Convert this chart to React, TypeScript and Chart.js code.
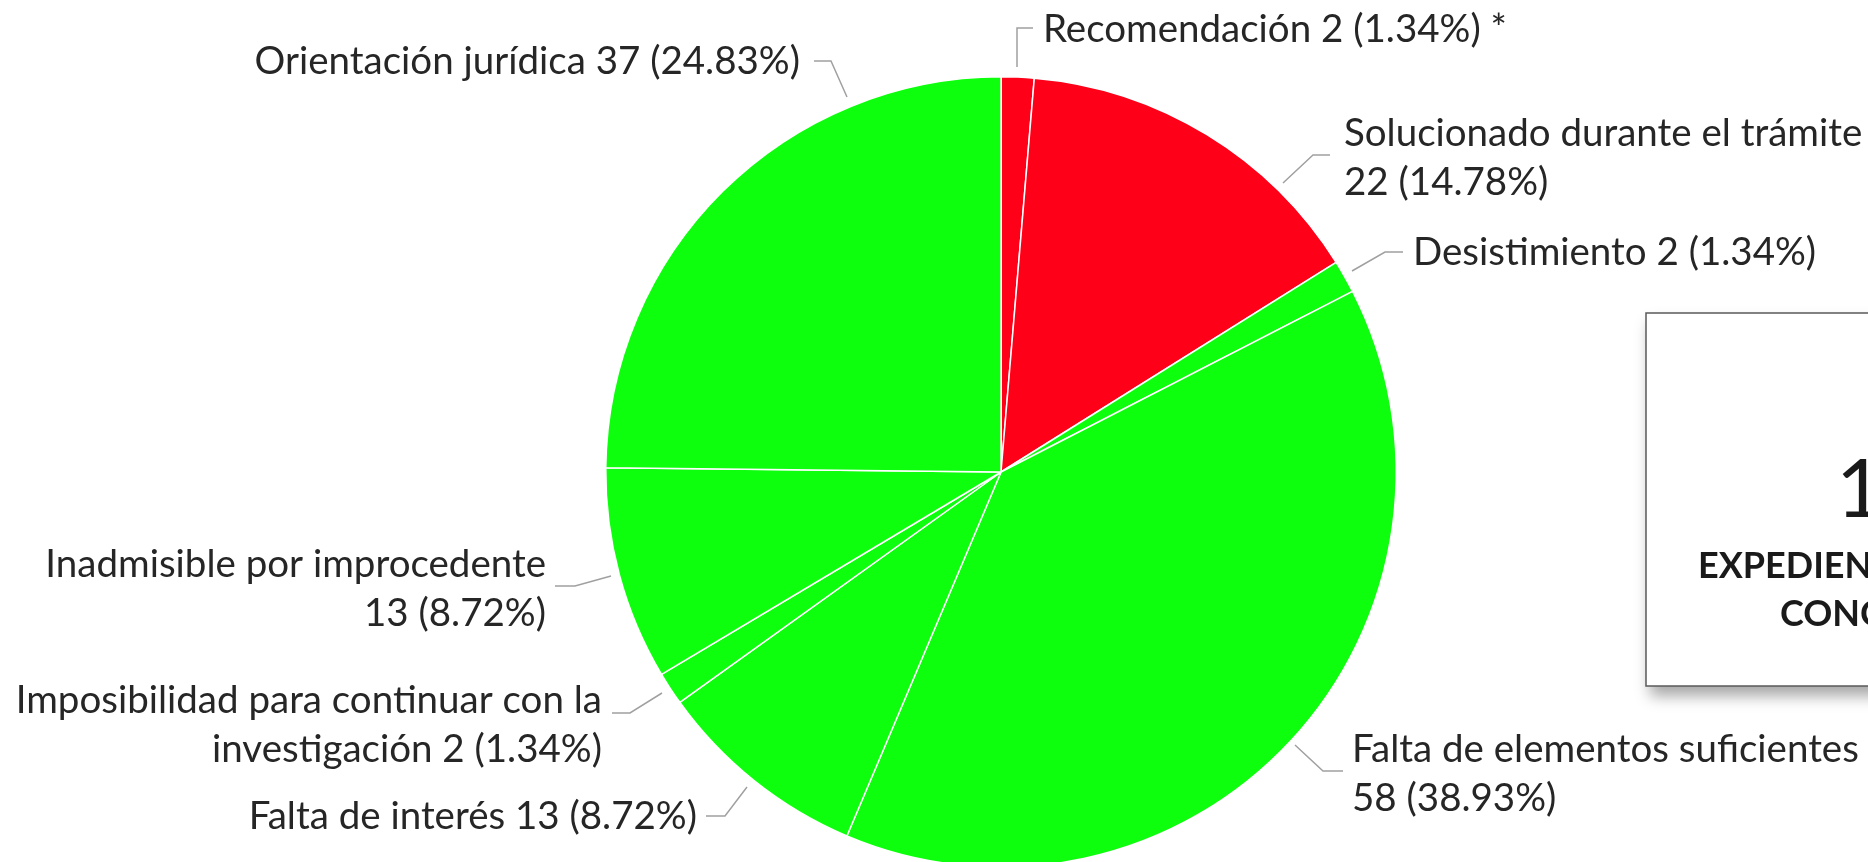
import React, { useEffect, useRef } from "react";
import { Chart, registerables } from "chart.js";

Chart.register(...registerables);

// ---- Data ----
const categories = [
  "Recomendación",
  "Solucionado durante el trámite",
  "Desistimiento",
  "Falta de elementos suficientes",
  "Falta de interés",
  "Imposibilidad para continuar con la investigación",
  "Inadmisible por improcedente",
  "Orientación jurídica",
];
const counts = [2, 22, 2, 58, 13, 2, 13, 37];
const percentLabels = ["1.34%", "14.78%", "1.34%", "38.93%", "8.72%", "1.34%", "8.72%", "24.83%"];
const labelSuffixes = [" *", "", "", "", "", "", "", ""];
const boxCaption = ["EXPEDIENTES", "CONCLUIDOS"];

// ---- Styles / layout ----
const RED = "#FF0019";
const GREEN = "#0DFF0D";
const sliceColors = [RED, RED, GREEN, GREEN, GREEN, GREEN, GREEN, GREEN];
const FONT = "Lato, 'Open Sans', sans-serif";
const LABEL_SIZE = 38.5;
const LINE_H = 49;
const TEXT_COLOR = "#262626";
const LEADER_COLOR = "#a0a0a0";

const W = 1868;
const H = 862;
const CANVAS_H = 940;

type Lay = {
  leader: number[][];
  x: number;
  y: number;
  align: CanvasTextAlign;
  firstLineWords: number | null;
};
const labelLayout: Lay[] = [
  { leader: [[1017, 67], [1017, 28], [1033, 28]], x: 1043, y: 42, align: "left", firstLineWords: null },
  { leader: [[1283, 183], [1313, 155], [1330, 155]], x: 1344, y: 146, align: "left", firstLineWords: 4 },
  { leader: [[1352, 271], [1385, 252], [1403, 252]], x: 1413, y: 265, align: "left", firstLineWords: null },
  { leader: [[1295, 745], [1323, 771], [1343, 771]], x: 1352, y: 762, align: "left", firstLineWords: 4 },
  { leader: [[747, 787], [725, 816], [706, 816]], x: 697, y: 829, align: "right", firstLineWords: null },
  { leader: [[662, 693], [630, 713], [612, 713]], x: 602, y: 713, align: "right", firstLineWords: 5 },
  { leader: [[611, 576], [575, 586], [555, 586]], x: 546, y: 577, align: "right", firstLineWords: 3 },
  { leader: [[847, 97], [831, 61], [814, 61]], x: 800, y: 74, align: "right", firstLineWords: null },
];

const boxRect = { x: 1646, y: 313, w: 600, h: 373 };

function labelLines(i: number): string[] {
  const full = `${categories[i]} ${counts[i]} (${percentLabels[i]})${labelSuffixes[i]}`;
  const n = labelLayout[i].firstLineWords;
  if (!n) return [full];
  const words = full.split(" ");
  return [words.slice(0, n).join(" "), words.slice(n).join(" ")];
}

const overlayPlugin = {
  id: "overlay",
  afterDraw(chart: any) {
    const ctx: CanvasRenderingContext2D = chart.ctx;
    // leader lines + labels
    ctx.save();
    labelLayout.forEach((lay, i) => {
      ctx.beginPath();
      ctx.strokeStyle = LEADER_COLOR;
      ctx.lineWidth = 1.5;
      lay.leader.forEach((p, k) => (k === 0 ? ctx.moveTo(p[0], p[1]) : ctx.lineTo(p[0], p[1])));
      ctx.stroke();
      ctx.fillStyle = TEXT_COLOR;
      ctx.font = `${LABEL_SIZE}px ${FONT}`;
      ctx.textAlign = lay.align;
      ctx.textBaseline = "alphabetic";
      labelLines(i).forEach((line, k) => ctx.fillText(line, lay.x, lay.y + k * LINE_H));
    });
    ctx.restore();

    // total box
    ctx.save();
    ctx.shadowColor = "rgba(0,0,0,0.35)";
    ctx.shadowBlur = 14;
    ctx.shadowOffsetX = 4;
    ctx.shadowOffsetY = 10;
    ctx.fillStyle = "#ffffff";
    ctx.fillRect(boxRect.x, boxRect.y, boxRect.w, boxRect.h);
    ctx.restore();
    ctx.save();
    ctx.strokeStyle = "#5a5a5a";
    ctx.lineWidth = 1.5;
    ctx.strokeRect(boxRect.x, boxRect.y, boxRect.w, boxRect.h);
    const total = counts.reduce((a, b) => a + b, 0);
    ctx.fillStyle = "#1a1a1a";
    ctx.textAlign = "left";
    ctx.textBaseline = "alphabetic";
    ctx.font = `82px ${FONT}`;
    ctx.fillText(String(total), 1836, 517);
    ctx.font = `bold 36px ${FONT}`;
    ctx.fillText(boxCaption[0], 1698, 578);
    ctx.fillText(boxCaption[1], 1780, 626);
    ctx.restore();
  },
};

export default function App() {
  const ref = useRef<HTMLCanvasElement | null>(null);
  useEffect(() => {
    if (!ref.current) return;
    const chart = new Chart(ref.current, {
      type: "pie",
      data: {
        labels: categories,
        datasets: [
          {
            data: counts,
            backgroundColor: sliceColors,
            borderColor: "#ffffff",
            borderWidth: 1.5,
          },
        ],
      },
      options: {
        responsive: false,
        maintainAspectRatio: false,
        animation: false,
        devicePixelRatio: 1,
        layout: { padding: { left: 605, right: 471, top: 76, bottom: 72 } },
        plugins: {
          legend: { display: false },
          tooltip: { enabled: false },
        },
      },
      plugins: [overlayPlugin],
    });
    return () => chart.destroy();
  }, []);
  return (
    <div
      style={{
        position: "fixed",
        left: 0,
        top: 0,
        width: W,
        height: H,
        overflow: "hidden",
        background: "#ffffff",
      }}
    >
      <canvas ref={ref} width={W} height={CANVAS_H} style={{ display: "block", width: W, height: CANVAS_H }} />
    </div>
  );
}
